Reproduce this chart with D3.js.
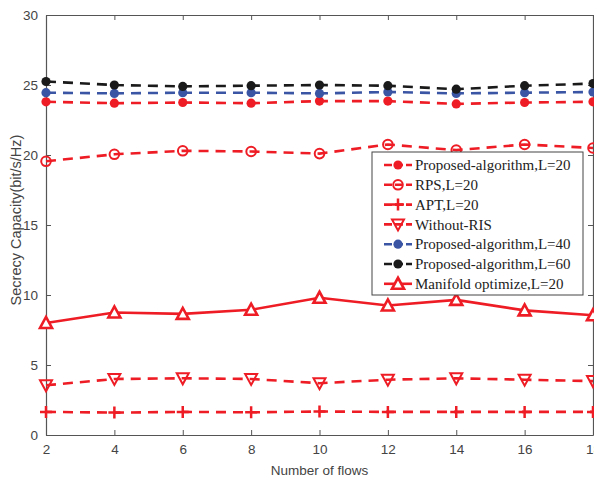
<!DOCTYPE html>
<html>
<head>
<meta charset="utf-8">
<script src="https://cdn.jsdelivr.net/npm/d3@7"></script>
<style>
  body { margin: 0; background: #fff; }
  svg { display: block; }
</style>
</head>
<body>
<div id="wrapper"></div>
<script>
// number of flows
const flows = [2, 4, 6, 8, 10, 12, 14, 16, 18];

const proposed20 = [23.8, 23.7, 23.75, 23.7, 23.85, 23.85, 23.65, 23.75, 23.8];
const rps20 = [19.55, 20.05, 20.3, 20.25, 20.1, 20.75, 20.35, 20.75, 20.5];
const apt20 = [1.65, 1.6, 1.65, 1.62, 1.68, 1.65, 1.65, 1.65, 1.65];
const withoutRis = [3.55, 4.0, 4.05, 4.0, 3.7, 3.95, 4.05, 3.95, 3.85];
const proposed40 = [24.45, 24.4, 24.45, 24.45, 24.4, 24.5, 24.4, 24.45, 24.5];
const proposed60 = [25.25, 25.0, 24.9, 24.95, 25.0, 24.95, 24.7, 24.95, 25.1];
const manifold20 = [8.0, 8.75, 8.65, 8.95, 9.8, 9.25, 9.65, 8.9, 8.55];

const xTicks = [2, 4, 6, 8, 10, 12, 14, 16, 18];
const yTicks = [0, 5, 10, 15, 20, 25, 30];

const seriesNames = [
  "Proposed-algorithm,L=20",
  "RPS,L=20",
  "APT,L=20",
  "Without-RIS",
  "Proposed-algorithm,L=40",
  "Proposed-algorithm,L=60",
  "Manifold optimize,L=20"
];

const red = "#ee1d25";
const series = [
  {name: seriesNames[0], values: proposed20, color: red, dash: "10,7", marker: "dot"},
  {name: seriesNames[1], values: rps20, color: red, dash: "10,7", marker: "circle"},
  {name: seriesNames[2], values: apt20, color: red, dash: "10,7", marker: "plus"},
  {name: seriesNames[3], values: withoutRis, color: red, dash: "10,7", marker: "down"},
  {name: seriesNames[4], values: proposed40, color: "#3a55a4", dash: "10,7", marker: "dot"},
  {name: seriesNames[5], values: proposed60, color: "#1a1a1a", dash: "10,7", marker: "dot"},
  {name: seriesNames[6], values: manifold20, color: red, dash: null, marker: "up"}
];

const dimensions = {
  width: 594,
  height: 478,
  margin: {top: 15, right: 1, bottom: 43, left: 46}
};
dimensions.boundedWidth = dimensions.width - dimensions.margin.left - dimensions.margin.right;
dimensions.boundedHeight = dimensions.height - dimensions.margin.top - dimensions.margin.bottom;

const svg = d3.select("#wrapper")
  .append("svg")
  .attr("width", dimensions.width)
  .attr("height", dimensions.height);

const bounds = svg.append("g")
  .attr("transform", `translate(${dimensions.margin.left},${dimensions.margin.top})`);

const xScale = d3.scaleLinear()
  .domain([2, 18])
  .range([0, dimensions.boundedWidth]);

const yScale = d3.scaleLinear()
  .domain([0, 30])
  .range([dimensions.boundedHeight, 0]);

const axisColor = "#555";
const tickFont = "Liberation Sans, Arial, sans-serif";

function styleAxis(g) {
  g.select(".domain").attr("stroke", axisColor).attr("stroke-width", 1.2);
  g.selectAll(".tick line").attr("stroke", axisColor);
  g.selectAll(".tick text")
    .attr("fill", "#444")
    .style("font-family", tickFont)
    .style("font-size", "13.5px");
}

// bottom / left with labels, top / right just ticks
bounds.append("g")
  .attr("transform", `translate(0,${dimensions.boundedHeight})`)
  .call(d3.axisBottom(xScale).tickValues(xTicks).tickSize(-5).tickPadding(9).tickSizeOuter(0))
  .call(styleAxis);

bounds.append("g")
  .call(d3.axisLeft(yScale).tickValues(yTicks).tickSize(-5).tickPadding(8).tickSizeOuter(0))
  .call(styleAxis);

bounds.append("g")
  .call(d3.axisTop(xScale).tickValues(xTicks).tickSize(-5).tickFormat("").tickSizeOuter(0))
  .call(styleAxis);

bounds.append("g")
  .attr("transform", `translate(${dimensions.boundedWidth},0)`)
  .call(d3.axisRight(yScale).tickValues(yTicks).tickSize(-5).tickFormat("").tickSizeOuter(0))
  .call(styleAxis);

// axis labels
bounds.append("text")
  .attr("x", dimensions.boundedWidth / 2)
  .attr("y", dimensions.boundedHeight + 40)
  .attr("text-anchor", "middle")
  .attr("fill", "#444")
  .style("font-family", tickFont)
  .style("font-size", "13.5px")
  .text("Number of flows");

bounds.append("text")
  .attr("transform", `translate(${-25},${dimensions.boundedHeight / 2 - 5}) rotate(-90)`)
  .attr("text-anchor", "middle")
  .attr("fill", "#444")
  .style("font-family", tickFont)
  .style("font-size", "14.5px")
  .text("Secrecy Capacity(bit/s/Hz)");

function drawMarker(g, type, color) {
  if (type === "dot") {
    g.append("circle").attr("r", 4.6).attr("fill", color);
  } else if (type === "circle") {
    g.append("circle").attr("r", 4.8).attr("fill", "none")
      .attr("stroke", color).attr("stroke-width", 2);
  } else if (type === "plus") {
    g.append("path").attr("d", "M-6,0H6M0,-6V6")
      .attr("stroke", color).attr("stroke-width", 2.5);
  } else if (type === "down") {
    g.append("path").attr("d", "M-6,-5L6,-5L0,6Z").attr("fill", "none")
      .attr("stroke", color).attr("stroke-width", 2);
  } else if (type === "up") {
    g.append("path").attr("d", "M-6,5L6,5L0,-6Z").attr("fill", "#fff")
      .attr("stroke", color).attr("stroke-width", 2.6);
  }
}

const lineGen = d3.line()
  .x(d => xScale(d[0]))
  .y(d => yScale(d[1]));

series.forEach(s => {
  const pts = flows.map((f, i) => [f, s.values[i]]);
  bounds.append("path")
    .datum(pts)
    .attr("d", lineGen)
    .attr("fill", "none")
    .attr("stroke", s.color)
    .attr("stroke-width", 2.6)
    .attr("stroke-dasharray", s.dash);

  bounds.append("g")
    .selectAll("g")
    .data(pts)
    .join("g")
    .attr("transform", d => `translate(${xScale(d[0])},${yScale(d[1])})`)
    .each(function() { drawMarker(d3.select(this), s.marker, s.color); });
});

// legend
const legend = svg.append("g").attr("transform", "translate(372,152)");
legend.append("rect")
  .attr("width", 211)
  .attr("height", 143)
  .attr("fill", "#fff")
  .attr("stroke", "#444")
  .attr("stroke-width", 1);

const rows = legend.selectAll("g.row")
  .data(series)
  .join("g")
  .attr("class", "row")
  .attr("transform", (d, i) => `translate(0,${13 + i * 19.8})`);

rows.append("line")
  .attr("x1", 12).attr("x2", 40)
  .attr("stroke", d => d.color)
  .attr("stroke-width", 2.6)
  .attr("stroke-dasharray", d => d.dash ? "8,3" : null);

rows.each(function(d) {
  const m = d3.select(this).append("g").attr("transform", "translate(26,0)");
  drawMarker(m, d.marker, d.color);
});

rows.append("text")
  .attr("x", 43)
  .attr("dy", "0.35em")
  .attr("fill", "#222")
  .style("font-family", "Liberation Serif, Times New Roman, serif")
  .style("font-size", "15px")
  .text(d => d.name);
</script>
</body>
</html>
